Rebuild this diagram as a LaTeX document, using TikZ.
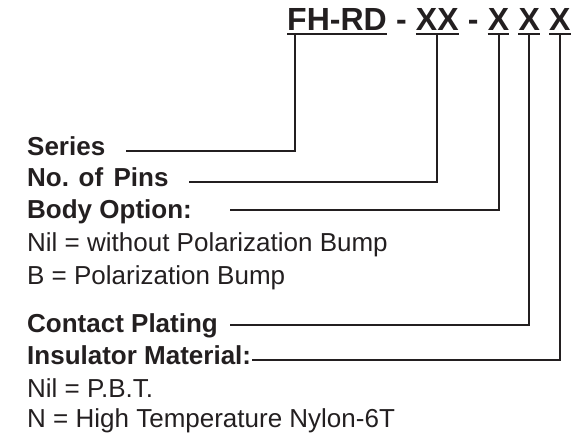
\documentclass[tikz,border=0pt]{standalone}
\usepackage{fontspec}
\setmainfont{Liberation Sans}
\usetikzlibrary{positioning}
\definecolor{ink}{HTML}{231F20}
\begin{document}
\begin{tikzpicture}[x=1pt,y=-1pt,
  lbl/.style={anchor=base west,inner sep=0pt,font=\fontsize{26}{30}\selectfont\bfseries,text=ink},
  txt/.style={anchor=base west,inner sep=0pt,font=\fontsize{26}{30}\selectfont,text=ink},
  ttl/.style={inner sep=0pt,font=\fontsize{32}{36}\selectfont\bfseries,text=ink},
  conn/.style={draw=ink,line width=2.2pt},
  uline/.style={draw=ink,line width=2pt}]
\useasboundingbox (0,0) rectangle (576,435);
% title
\node[ttl,anchor=base west] (t1) at (287,31) {FH-RD};
\node[ttl,base right=8.9pt of t1] (d1) {-};
\node[ttl,base right=8.9pt of d1] (xx) {XX};
\node[ttl,base right=8.9pt of xx] (d2) {-};
\node[ttl,base right=8.9pt of d2] (x1) {X};
\node[ttl,base right=8.9pt of x1] (x2) {X};
\node[ttl,base right=8.9pt of x2] (x3) {X};
\foreach \n in {t1,xx,x1,x2,x3}
  \draw[uline] ([yshift=-3pt]\n.base west) -- ([yshift=-3pt]\n.base east);
% labels
\node[lbl] (series) at (27,156) {Series};
\node[lbl] (pins) at (27,187) {No. of\hspace{0.4em}Pins};
\node[lbl] (body) at (27,219) {Body Option:};
\node[txt] (bnil) at (27,252) {Nil = without Polarization Bump};
\node[txt] (bb) at (27,285) {B = Polarization Bump};
\node[lbl] (contact) at (27,333) {Contact Plating};
\node[lbl] (ins) at (27,365) {Insulator Material:};
\node[txt] (inil) at (27,398) {Nil = P.B.T.};
\node[txt] (inn) at (27,428) {N = High Temperature Nylon-6T};
% connectors
\draw[conn] ([xshift=8pt,yshift=-3pt]t1.base west) |- ([xshift=21pt,yshift=5pt]series.base east);
\draw[conn] ([yshift=-3pt]xx.base) |- ([xshift=20pt,yshift=5pt]pins.base east);
\draw[conn] ([yshift=-3pt]x1.base) |- ([xshift=38pt,yshift=9pt]body.base east);
\draw[conn] ([yshift=-3pt]x2.base) |- ([xshift=12pt,yshift=8pt]contact.base east);
\draw[conn] ([yshift=-3pt]x3.base) |- ([xshift=1pt,yshift=5pt]ins.base east);
\end{tikzpicture}
\end{document}
